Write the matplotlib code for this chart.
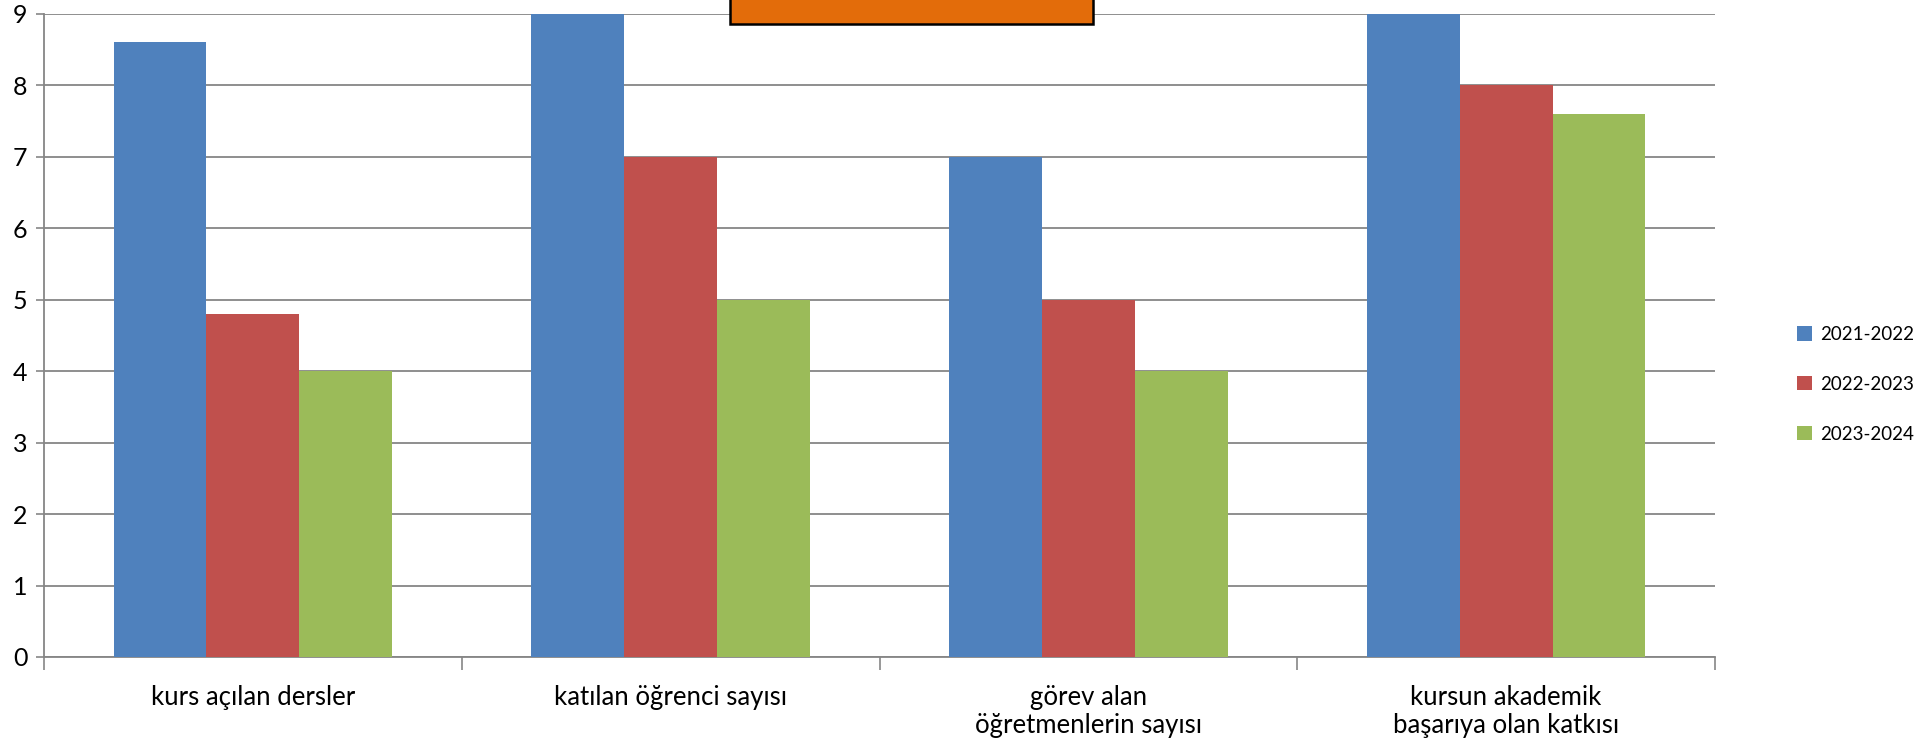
import matplotlib
matplotlib.use("Agg")
import matplotlib.pyplot as plt
from matplotlib.patches import Rectangle, Patch
import numpy as np

categories = ["kurs açılan dersler", "katılan öğrenci sayısı",
              "görev alan\nöğretmenlerin sayısı", "kursun akademik\nbaşarıya olan katkısı"]
series_names = ["2021-2022", "2022-2023", "2023-2024"]
values_2021 = [8.6, 9.0, 7.0, 9.0]
values_2022 = [4.8, 7.0, 5.0, 8.0]
values_2023 = [4.0, 5.0, 4.0, 7.6]
y_ticks = [0, 1, 2, 3, 4, 5, 6, 7, 8, 9]
colors = ["#4F81BD", "#C0504D", "#9BBB59"]

plt.rcParams['font.family'] = ['Lato', 'DejaVu Sans']

W, H = 1933, 738
fig = plt.figure(figsize=(W / 100, H / 100), dpi=100)
ax = fig.add_axes([44 / W, 1 - 657 / H, (1715 - 44) / W, (657 - 13.6) / H])

x = np.arange(len(categories))
bw = 1 / 4.5
for i, (name, vals) in enumerate(zip(series_names, [values_2021, values_2022, values_2023])):
    ax.bar(x + (i - 1) * bw, vals, width=bw, color=colors[i], label=name,
           linewidth=0, zorder=3)

grid_color = "#868686"
ax.set_ylim(0, 9)
ax.set_xlim(-0.5, len(categories) - 0.5)
ax.set_yticks(y_ticks)
ax.set_yticklabels([str(t) for t in y_ticks], fontsize=18)
ax.yaxis.grid(True, color=grid_color, linewidth=1.3, zorder=0)
ax.set_axisbelow(True)

ax.set_xticks(np.arange(-0.5, len(categories), 1.0))
ax.set_xticklabels([])
ax.set_xticks(x, minor=True)
ax.set_xticklabels(categories, minor=True, fontsize=18.5, linespacing=1.15, va='top')
ax.tick_params(axis='x', which='minor', length=0, pad=20)
ax.tick_params(axis='x', which='major', length=9, width=1.2, color=grid_color, direction='out')
ax.tick_params(axis='y', length=6, width=1.2, color=grid_color, direction='out', pad=6)

for s in ["top", "right"]:
    ax.spines[s].set_visible(False)
for s in ["left", "bottom"]:
    ax.spines[s].set_color(grid_color)
    ax.spines[s].set_linewidth(1.3)

# orange box at top (cropped title box)
fig.patches.append(Rectangle((730 / W, 1 - 24 / H), 363 / W, 40 / H,
                             transform=fig.transFigure, facecolor="#E36C0A",
                             edgecolor="black", linewidth=1.8, clip_on=False, zorder=5))

handles = [Patch(facecolor=c, edgecolor='none') for c in colors]
fig.legend(handles, series_names, loc='upper left',
           bbox_to_anchor=(1797 / W, 1 - 326 / H),
           frameon=False, fontsize=13.5, handlelength=0.8, handleheight=0.8,
           handletextpad=0.45, labelspacing=1.75, borderaxespad=0, borderpad=0)

fig.savefig("out.png", dpi=100)
